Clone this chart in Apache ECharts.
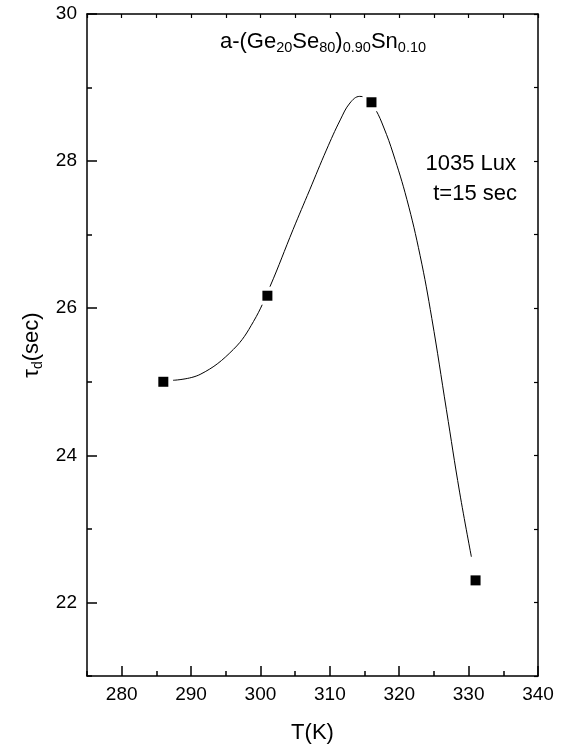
<!DOCTYPE html>
<html>
<head>
<meta charset="utf-8">
<script src="https://cdn.jsdelivr.net/npm/echarts@6/dist/echarts.min.js"></script>
<style>
  html, body { margin: 0; padding: 0; background: #fff; }
  #chart { width: 564px; height: 749px; }
</style>
</head>
<body>
<div id="chart"></div>
<script>
// measured points
const temps = [286, 301, 316, 331]
const tauD = [25.0, 26.17, 28.8, 22.3]

// fitted curve
const curveT = [287.4, 291.3, 296.1, 299.0, 301.4, 304.7, 307.1, 309.5, 311.5, 312.9, 314.3, 315.5, 316.6, 317.8, 319.1, 321.1, 323.0, 324.7, 326.8, 328.7, 330.4]
const curveTau = [25.02, 25.10, 25.44, 25.82, 26.30, 27.07, 27.61, 28.15, 28.56, 28.79, 28.88, 28.84, 28.70, 28.45, 28.11, 27.48, 26.72, 25.86, 24.62, 23.50, 22.62]

const xTicks = [280, 290, 300, 310, 320, 330, 340]
const xMinor = [275, 285, 295, 305, 315, 325, 335]
const yTicks = [22, 24, 26, 28, 30]
const yMinor = [21, 23, 25, 27, 29]

const font = 'Liberation Sans, Arial, sans-serif'
const chart = echarts.init(document.getElementById('chart'))

const axisLine = { lineStyle: { color: '#000', width: 1.5 } }
const tickStyle = { color: '#000', width: 1.5 }
const noLabel = { show: false }
const noSplit = { show: false }

chart.setOption({
  animation: false,
  backgroundColor: '#fff',
  grid: { left: 87, right: 26, top: 14, bottom: 72 },
  xAxis: [{
    type: 'value', min: 275, max: 340, position: 'bottom',
    axisLine: axisLine,
    axisTick: { inside: true, length: 10, lineStyle: tickStyle, customValues: xTicks },
    axisLabel: { color: '#000', fontSize: 19, fontFamily: font, margin: 9, customValues: xTicks },
    splitLine: noSplit,
    name: 'T(K)', nameLocation: 'middle', nameGap: 46,
    nameTextStyle: { color: '#000', fontSize: 22, fontFamily: font }
  }, {
    type: 'value', min: 275, max: 340, position: 'bottom', offset: 0,
    axisLine: { show: false },
    axisTick: { inside: true, length: 5, lineStyle: tickStyle, customValues: xMinor },
    axisLabel: noLabel, splitLine: noSplit
  }, {
    type: 'value', min: 275, max: 340, interval: 5, position: 'top',
    axisLine: axisLine,
    axisTick: { inside: true, length: 4, lineStyle: { color: '#000', width: 1.2 } },
    axisLabel: noLabel, splitLine: noSplit
  }],
  yAxis: [{
    type: 'value', min: 21, max: 30, position: 'left',
    axisLine: axisLine,
    axisTick: { inside: true, length: 10, lineStyle: tickStyle, customValues: yTicks },
    axisLabel: { color: '#000', fontSize: 19, fontFamily: font, margin: 10, customValues: yTicks },
    splitLine: noSplit,
    name: '{t|τ}{s|d}{t|(sec)}', nameLocation: 'middle', nameGap: 38,
    nameTextStyle: {
      color: '#000', fontFamily: font,
      rich: {
        t: { fontSize: 22, fontFamily: font, color: '#000', lineHeight: 26 },
        s: { fontSize: 14, fontFamily: font, color: '#000', padding: [12, 0, 0, 0] }
      }
    }
  }, {
    type: 'value', min: 21, max: 30, position: 'left', offset: 0,
    axisLine: { show: false },
    axisTick: { inside: true, length: 5, lineStyle: tickStyle, customValues: yMinor },
    axisLabel: noLabel, splitLine: noSplit
  }, {
    type: 'value', min: 21, max: 30, interval: 1, position: 'right',
    axisLine: axisLine,
    axisTick: { inside: true, length: 4, lineStyle: { color: '#000', width: 1.2 } },
    axisLabel: noLabel, splitLine: noSplit
  }],
  graphic: [{
    type: 'text', x: 323, y: 42,
    style: {
      text: '{t|a-(Ge}{s|20}{t|Se}{s|80}{t|)}{s|0.90}{t|Sn}{s|0.10}',
      align: 'center', verticalAlign: 'middle',
      rich: {
        t: { fontSize: 22, fontFamily: font, fill: '#000', lineHeight: 26 },
        s: { fontSize: 14.5, fontFamily: font, fill: '#000', padding: [12, 0, 0, 0] }
      }
    }
  }, {
    type: 'text', x: 516, y: 164,
    style: { text: '1035 Lux', font: '22px ' + font, fill: '#000', align: 'right', verticalAlign: 'middle' }
  }, {
    type: 'text', x: 517, y: 194,
    style: { text: 't=15 sec', font: '22px ' + font, fill: '#000', align: 'right', verticalAlign: 'middle' }
  }],
  series: [{
    type: 'line',
    data: curveT.map((t, i) => [t, curveTau[i]]),
    smooth: 0.4,
    showSymbol: false,
    lineStyle: { color: '#000', width: 1 },
    z: 2
  }, {
    // white halo that cuts the curve round each point
    type: 'scatter',
    data: temps.map((t, i) => [t, tauD[i]]),
    symbol: 'rect',
    symbolSize: 18,
    itemStyle: { color: '#fff', opacity: 1 },
    z: 3
  }, {
    type: 'scatter',
    data: temps.map((t, i) => [t, tauD[i]]),
    symbol: 'rect',
    symbolSize: 10,
    itemStyle: { color: '#000', opacity: 1 },
    z: 4
  }]
})
</script>
</body>
</html>
